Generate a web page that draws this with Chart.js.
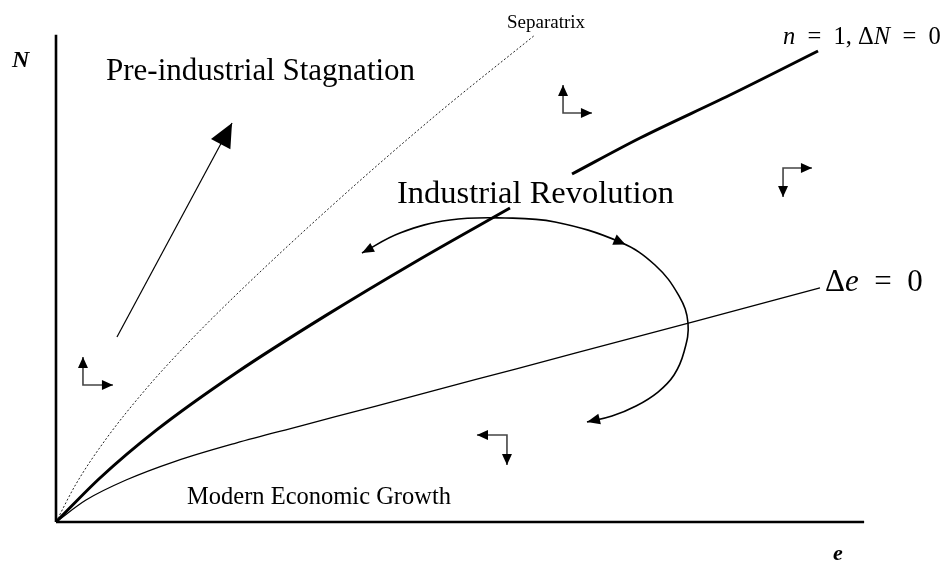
<!DOCTYPE html>
<html><head><meta charset="utf-8">
<script src="https://cdn.jsdelivr.net/npm/chart.js@4"></script>
<style>html,body{margin:0;padding:0;background:#fff;}canvas{display:block}</style>
</head><body>
<canvas id="c" width="946" height="562"></canvas>
<script>
// ---- data (e on x, N on y) ----
const axisYE = [0, 0],      axisYN = [0, 5.60];
const axisXE = [0, 9.08],   axisXN = [0, 0];
const sepE = [0, 0.225, 0.562, 1.011, 1.461, 2.022, 3.146, 4.270, 5.382];
const sepN = [0, 0.437, 0.954, 1.529, 2.034, 2.609, 3.678, 4.678, 5.598];
const ncE  = [0, 0.494, 1.124, 2.022, 3.034, 4.045, 5.101, 5.45, 5.798, 6.562, 7.573, 8.562];
const ncN  = [0, 0.506, 1.053, 1.713, 2.375, 2.995, 3.609, null, 4.000, 4.414, 4.908, 5.414];
const deE  = [0, 0.337, 0.787, 1.348, 2.022, 2.742, 3.596, 4.719, 5.843, 7.191, 8.584];
const deN  = [0, 0.253, 0.483, 0.701, 0.908, 1.103, 1.333, 1.638, 1.943, 2.310, 2.690];
const cycE = [3.438, 3.865, 4.427, 5.045, 5.607, 6.337, 6.730, 7.000, 7.101, 7.056, 6.944, 6.764, 6.517, 6.247, 5.966];
const cycN = [3.092, 3.322, 3.471, 3.494, 3.448, 3.218, 2.954, 2.598, 2.287, 1.954, 1.690, 1.494, 1.333, 1.218, 1.149];
const bigArrowE = [0.685, 1.978];
const bigArrowN = [2.126, 4.586];
// small direction arrows: [first tip, corner, second tip]
const dir1E = [0.303, 0.303, 0.640], dir1N = [1.897, 1.575, 1.575];
const dir2E = [5.697, 5.697, 6.022], dir2N = [5.023, 4.701, 4.701];
const dir3E = [8.494, 8.169, 8.169], dir3N = [4.069, 4.069, 3.736];
const dir4E = [4.730, 5.067, 5.067], dir4N = [1.000, 1.000, 0.655];
// text labels
const labelTexts = ['Pre-industrial Stagnation', 'Separatrix', 'Industrial Revolution', 'Modern Economic Growth'];
const labelE = [0.562, 5.067, 3.831, 1.472];
const labelN = [5.080, 5.678, 3.667, 0.207];
const axisNames = ['N', 'e'];
const axisNameE = [-0.494, 8.730];
const axisNameN = [5.230, -0.437];
const mathLabels = [
  [['n', true], ['\u2002=\u20021, Δ', false], ['N', true], ['\u2002=\u20020', false]],
  [['Δ', false], ['e', true], ['\u2002=\u20020', false]]
];
const mathE = [8.169, 8.640];
const mathN = [5.494, 2.655];

function pts(xs, ys) { return xs.map((x, i) => ({ x: x, y: ys[i] })); }

const arrowPlugin = {
  id: 'arrowheads',
  afterDatasetsDraw(chart) {
    const ctx = chart.ctx;
    chart.data.datasets.forEach((ds, i) => {
      if (!ds.heads) return;
      const p = chart.getDatasetMeta(i).data;
      ds.heads.forEach(h => {
        let tip, from, len = h.len, wid = h.wid, cx, cy, ang;
        if (h.at === 'start') { tip = p[0]; from = p[1]; }
        else if (h.at === 'end') { tip = p[p.length - 1]; from = p[p.length - 2]; }
        if (h.at === 'start' || h.at === 'end') {
          ang = Math.atan2(tip.y - from.y, tip.x - from.x);
          cx = tip.x; cy = tip.y;
        } else {
          const a = p[h.at - 1], b = p[h.at + 1];
          ang = Math.atan2(b.y - a.y, b.x - a.x);
          cx = p[h.at].x + Math.cos(ang) * len / 2; cy = p[h.at].y + Math.sin(ang) * len / 2;
        }
        ctx.save();
        ctx.translate(cx, cy);
        ctx.rotate(ang);
        ctx.beginPath();
        ctx.moveTo(0, 0);
        ctx.lineTo(-len, -wid / 2);
        ctx.lineTo(-len, wid / 2);
        ctx.closePath();
        ctx.fillStyle = '#000';
        ctx.fill();
        ctx.restore();
      });
    });
  }
};

const textPlugin = {
  id: 'texts',
  afterDatasetsDraw(chart) {
    const ctx = chart.ctx, xs = chart.scales.x, ys = chart.scales.y;
    const fonts = ['31px "Liberation Serif"', '19px "Liberation Serif"', '32.5px "Liberation Serif"', '24.5px "Liberation Serif"'];
    ctx.save();
    ctx.fillStyle = '#000';
    ctx.textBaseline = 'alphabetic';
    ctx.textAlign = 'left';
    labelTexts.forEach((t, i) => {
      ctx.font = fonts[i];
      ctx.fillText(t, xs.getPixelForValue(labelE[i]), ys.getPixelForValue(labelN[i]));
    });
    axisNames.forEach((t, i) => {
      ctx.font = 'italic bold ' + (i === 0 ? 24 : 22) + 'px "Liberation Serif"';
      ctx.fillText(t, xs.getPixelForValue(axisNameE[i]), ys.getPixelForValue(axisNameN[i]));
    });
    const mathSizes = [24.5, 31];
    mathLabels.forEach((segs, i) => {
      let x = xs.getPixelForValue(mathE[i]);
      const y = ys.getPixelForValue(mathN[i]);
      segs.forEach(([t, it]) => {
        ctx.font = (it ? 'italic ' : '') + mathSizes[i] + 'px "Liberation Serif"';
        ctx.fillText(t, x, y);
        x += ctx.measureText(t).width;
      });
    });
    ctx.restore();
  }
};

const base = { showLine: true, pointRadius: 0, pointHoverRadius: 0, borderColor: '#000', fill: false, clip: false, spanGaps: false };

new Chart(document.getElementById('c'), {
  type: 'scatter',
  data: {
    datasets: [
      Object.assign({}, base, { label: 'axisN', data: pts(axisYE, axisYN), borderWidth: 2.6 }),
      Object.assign({}, base, { label: 'axisE', data: pts(axisXE, axisXN), borderWidth: 2.6 }),
      Object.assign({}, base, { label: 'Separatrix', data: pts(sepE, sepN), borderWidth: 1, borderDash: [2, 2], borderColor: '#222', cubicInterpolationMode: 'monotone' }),
      Object.assign({}, base, { label: 'n=1, ΔN=0', data: pts(ncE, ncN), borderWidth: 3, cubicInterpolationMode: 'monotone' }),
      Object.assign({}, base, { label: 'Δe=0', data: pts(deE, deN), borderWidth: 1.3, cubicInterpolationMode: 'monotone' }),
      Object.assign({}, base, { label: 'cycle', data: pts(cycE, cycN), borderWidth: 1.6, tension: 0.4,
        heads: [{ at: 'start', len: 12, wid: 10 }, { at: 5, len: 12, wid: 11 }, { at: 'end', len: 13, wid: 11 }] }),
      Object.assign({}, base, { label: 'big', data: pts(bigArrowE, bigArrowN), borderWidth: 1.2,
        heads: [{ at: 'end', len: 24, wid: 22 }] }),
      Object.assign({}, base, { label: 'd1', data: pts(dir1E, dir1N), borderWidth: 1.6, borderColor: '#444', heads: [{ at: 'start', len: 11, wid: 10 }, { at: 'end', len: 11, wid: 10 }] }),
      Object.assign({}, base, { label: 'd2', data: pts(dir2E, dir2N), borderWidth: 1.6, borderColor: '#444', heads: [{ at: 'start', len: 11, wid: 10 }, { at: 'end', len: 11, wid: 10 }] }),
      Object.assign({}, base, { label: 'd3', data: pts(dir3E, dir3N), borderWidth: 1.6, borderColor: '#444', heads: [{ at: 'start', len: 11, wid: 10 }, { at: 'end', len: 11, wid: 10 }] }),
      Object.assign({}, base, { label: 'd4', data: pts(dir4E, dir4N), borderWidth: 1.6, borderColor: '#444', heads: [{ at: 'start', len: 11, wid: 10 }, { at: 'end', len: 11, wid: 10 }] })
    ]
  },
  options: {
    responsive: false,
    animation: false,
    devicePixelRatio: 1,
    layout: { padding: { left: 56, top: 0, right: 0, bottom: 40 } },
    plugins: { legend: { display: false }, tooltip: { enabled: false } },
    events: [],
    scales: {
      x: { type: 'linear', display: false, min: 0, max: 10 },
      y: { type: 'linear', display: false, min: 0, max: 6 }
    }
  },
  plugins: [arrowPlugin, textPlugin]
});
</script>
</body></html>
